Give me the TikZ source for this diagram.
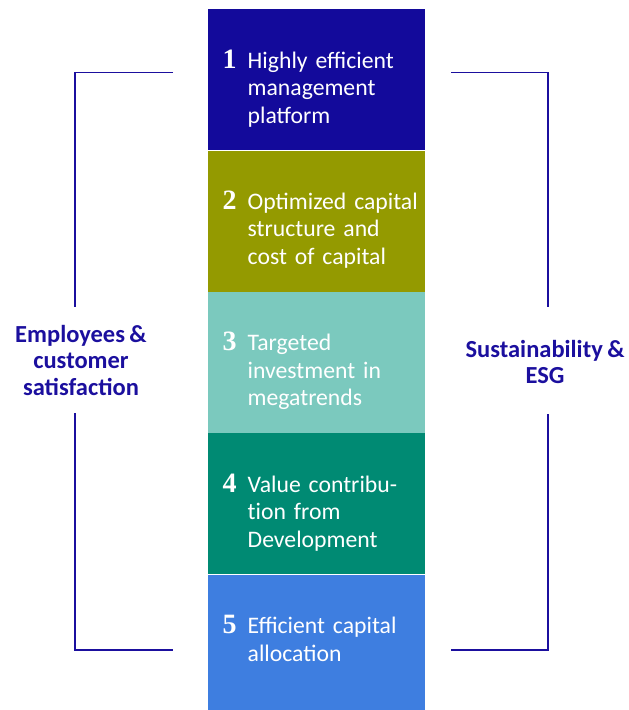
\documentclass[tikz,border=0pt]{standalone}
\usepackage{fontspec}
\setmainfont{Carlito}[WordSpace=0.8]
\newfontfamily\numfont{Liberation Serif}
\usepackage{xcolor}
\usetikzlibrary{positioning, calc}
\definecolor{tierone}{HTML}{130A9B}
\definecolor{tiertwo}{HTML}{949A00}
\definecolor{tierthree}{HTML}{7BC9BE}
\definecolor{tierfour}{HTML}{008A73}
\definecolor{tierfive}{HTML}{3E7EE0}
\definecolor{brand}{HTML}{1B0F9E}
\tikzset{
    % Colored tier block
    tier/.style={
        rectangle,
        anchor=north west,
        minimum width=217pt,
        minimum height=141pt,
        inner sep=0pt,
        fill=#1,
        draw=none
    },
    % Big serif number
    tier number/.style={
        anchor=base west,
        inner sep=0pt,
        text=white,
        font=\fontsize{28}{30}\selectfont\numfont\bfseries
    },
    % Tier text
    tier text/.style={
        anchor=base west,
        inner sep=0pt,
        text width=178pt,
        align=left,
        text=white,
        font=\fontsize{23.7}{27.5}\selectfont
    },
    % Side label
    side label/.style={
        align=center,
        inner sep=0pt,
        text=brand,
        font=\fontsize{24.5}{26.5}\selectfont\bfseries
    },
    % Bracket lines
    bracket/.style={
        draw=brand,
        line width=1.4pt
    }
}
\begin{document}
\begin{tikzpicture}[x=1pt, y=-1pt]
    \useasboundingbox (0,0) rectangle (629,710);

    % Tiers
    \node[tier=tierone] (t1) at (208,9) {};
    \node[tier=tiertwo, below=0pt of t1] (t2) {};
    \node[tier=tierthree, below=0pt of t2] (t3) {};
    \node[tier=tierfour, below=0pt of t3] (t4) {};
    \node[tier=tierfive, below=0pt of t4, minimum height=137pt] (t5) {};

    % Numbers and texts
    \foreach \i/\txt in {1/{Highly efficient\\management\\platform},
                         2/{Optimized capital\\structure and\\cost of capital},
                         3/{Targeted\\investment in\\megatrends},
                         4/{Value contribu-\\t\kern0pt ion from\\Development},
                         5/{Efficient capital\\allocation}} {
        \node[tier number] (n\i) at ([xshift=14.5pt, yshift=-59pt]t\i.north west) {\i};
        \node[tier text] (x\i) at ([xshift=39.5pt, yshift=-59pt]t\i.north west) {\txt};
    }

    % Side labels
    \node[side label] (emp) at (81,360) {Employees \&\\customer\\satisfaction};
    \node[side label] (sus) at (545,362) {Sustainability \&\\ESG};

    % Brackets
    \coordinate (lt) at (173,72.5);
    \coordinate (lb) at (173,650);
    \coordinate (rt) at (451,72.5);
    \coordinate (rb) at (451,650);
    \draw[bracket] (lt) -- (75,72.5) -- (75,307);
    \draw[bracket] (75,413) -- (75,650) -- (lb);
    \draw[bracket] (rt) -- (548,72.5) -- (548,307);
    \draw[bracket] (548,414) -- (548,650) -- (rb);
\end{tikzpicture}
\end{document}
